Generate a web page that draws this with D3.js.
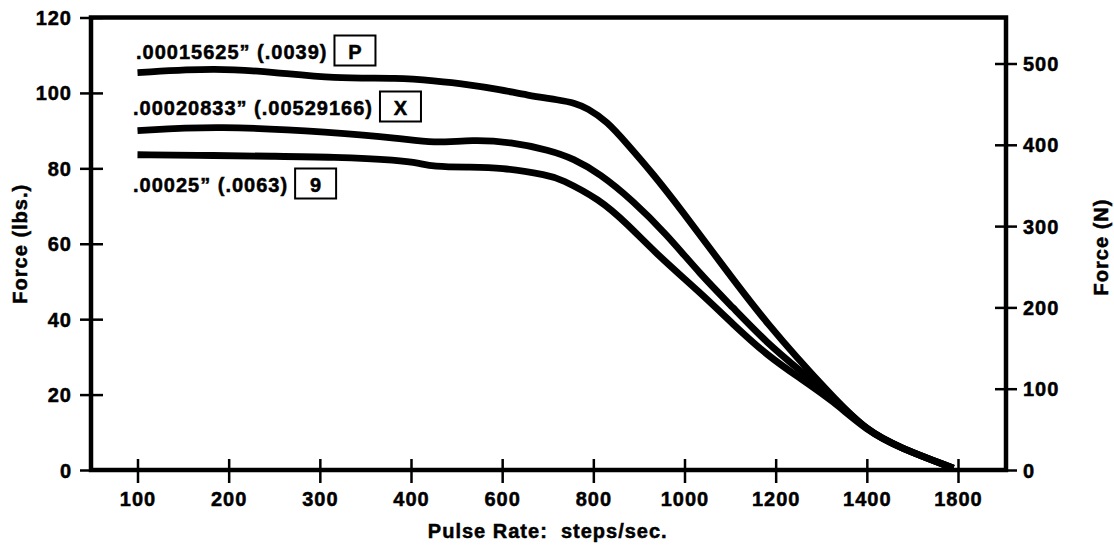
<!DOCTYPE html>
<html>
<head>
<meta charset="utf-8">
<script src="https://cdn.jsdelivr.net/npm/d3@7"></script>
<style>
  html, body { margin: 0; padding: 0; background: #fff; }
  svg { display: block; }
  text { font-family: "Liberation Sans", Arial, Helvetica, sans-serif; font-weight: bold; fill: #000; }
</style>
</head>
<body>
<svg id="chart" width="1114" height="547"></svg>
<script>
// ---- data ----
const pulseTicks = [100, 200, 300, 400, 600, 800, 1000, 1200, 1400, 1800];
const lbsTicks = [0, 20, 40, 60, 80, 100, 120];
const newtonTicks = [0, 100, 200, 300, 400, 500];

const seriesNames = ['.00015625\u201D (.0039)', '.00020833\u201D (.00529166)', '.00025\u201D (.0063)'];
const seriesCodes = ['P', 'X', '9'];

const pulseP = [100, 187, 250, 314, 388, 450, 522, 596, 654, 726, 760, 786, 830, 874, 930, 996, 1070, 1180, 1326, 1400, 1544, 1780];
const forceP = [105.4, 106.6, 105.5, 103.8, 104.0, 103.2, 102.3, 100.9, 99.4, 98.1, 97.3, 96.0, 92.5, 86.5, 78.7, 68.5, 56.5, 38.7, 19.2, 10.4, 5.9, 0.5];

const pulseX = [100, 187, 314, 388, 448, 536, 618, 704, 756, 814, 886, 960, 1034, 1106, 1180, 1254, 1326, 1400, 1544, 1780];
const forceX = [90.0, 91.3, 89.6, 88.0, 86.6, 87.6, 87.0, 84.8, 82.6, 78.6, 71.5, 62.6, 52.0, 43.1, 33.8, 26.3, 19.2, 10.4, 5.9, 0.5];

const pulse9 = [100, 187, 250, 314, 388, 420, 448, 522, 596, 704, 726, 814, 874, 946, 1034, 1106, 1180, 1254, 1326, 1400, 1544, 1780];
const force9 = [83.6, 83.4, 83.2, 83.0, 82.2, 81.3, 80.5, 80.3, 80.3, 78.1, 77.3, 71.8, 65.3, 56.4, 47.1, 38.7, 30.5, 24.3, 18.3, 10.4, 5.9, 0.5];

const xLabel = 'Pulse Rate:  steps/sec.';
const yLeftLabel = 'Force (lbs.)';
const yRightLabel = 'Force (N)';

// ---- layout ----
const frame = { left: 91, right: 1006, top: 17.5, bottom: 470 };
const xFirst = 137.5, xLast = 958;
const FS = 20, LS = '1px';

const svg = d3.select('#chart');

const x = d3.scaleLinear()
  .domain(pulseTicks)
  .range(pulseTicks.map((d, i) => xFirst + i * (xLast - xFirst) / (pulseTicks.length - 1)));
const yL = d3.scaleLinear().domain([0, 120]).range([frame.bottom, frame.top]);
const yR = d3.scaleLinear().domain([0, 500]).range([frame.bottom, 63.5]);

function styleText(sel) {
  sel.attr('font-size', FS).attr('letter-spacing', LS)
     .attr('font-family', '"Liberation Sans", Arial, Helvetica, sans-serif')
     .attr('font-weight', 'bold').attr('fill', '#000')
     .attr('stroke', '#000').attr('stroke-width', 0.5);
}

// curves
const line = d3.line().x(d => x(d[0])).y(d => yL(d[1])).curve(d3.curveBasis);
const curves = [
  d3.zip(pulseP, forceP),
  d3.zip(pulseX, forceX),
  d3.zip(pulse9, force9)
];
svg.append('g').selectAll('path').data(curves).join('path')
  .attr('d', line)
  .attr('fill', 'none')
  .attr('stroke', '#000')
  .attr('stroke-width', 6.8)
  .attr('stroke-linejoin', 'round');

// frame
svg.append('rect')
  .attr('x', frame.left).attr('y', frame.top)
  .attr('width', frame.right - frame.left).attr('height', frame.bottom - frame.top)
  .attr('fill', 'none').attr('stroke', '#000').attr('stroke-width', 4.5);

// left axis
const gL = svg.append('g').attr('transform', `translate(${frame.left},0)`)
  .call(d3.axisLeft(yL).tickValues(lbsTicks).tickSize(12).tickPadding(7).tickFormat(d3.format('d')));
gL.select('.domain').remove();
gL.selectAll('.tick line').attr('x1', 12).attr('x2', -11).attr('stroke', '#000').attr('stroke-width', 2.5);
gL.selectAll('.tick text').call(styleText).attr('dy', '0.35em');

// right axis
const gR = svg.append('g').attr('transform', `translate(${frame.right},0)`)
  .call(d3.axisRight(yR).tickValues(newtonTicks).tickSize(11).tickPadding(6).tickFormat(d3.format('d')));
gR.select('.domain').remove();
gR.selectAll('.tick line').attr('x1', -11).attr('x2', 11).attr('stroke', '#000').attr('stroke-width', 2.5);
gR.selectAll('.tick text').call(styleText).attr('dy', '0.35em');

// bottom axis
const gB = svg.append('g').attr('transform', `translate(0,${frame.bottom})`)
  .call(d3.axisBottom(x).tickValues(pulseTicks).tickSize(13).tickPadding(8).tickFormat(d3.format('d')));
gB.select('.domain').remove();
gB.selectAll('.tick line').attr('y1', -11).attr('y2', 13).attr('stroke', '#000').attr('stroke-width', 2.5);
gB.selectAll('.tick text').call(styleText).attr('y', 36).attr('dy', 0);

// axis titles
svg.append('text').text(xLabel).call(styleText)
  .attr('x', (xFirst + xLast) / 2).attr('y', 538).attr('text-anchor', 'middle').attr('xml:space', 'preserve')
  .style('white-space', 'pre');
svg.append('text').text(yLeftLabel).call(styleText)
  .attr('text-anchor', 'middle')
  .attr('transform', `translate(27,${(frame.top + frame.bottom) / 2}) rotate(-90)`);
svg.append('text').text(yRightLabel).call(styleText)
  .attr('text-anchor', 'middle')
  .attr('transform', `translate(1108,247) rotate(-90)`);

// curve labels with boxed codes
const labelPos = [
  { x: 136, y: 59 },
  { x: 133, y: 115 },
  { x: 133, y: 192 }
];
seriesNames.forEach((name, i) => {
  const t = svg.append('text').text(name).call(styleText)
    .attr('x', labelPos[i].x).attr('y', labelPos[i].y);
  const w = t.node().getComputedTextLength();
  const bx = labelPos[i].x + w + 7;
  svg.append('rect')
    .attr('x', bx).attr('y', labelPos[i].y - 23.5)
    .attr('width', 41).attr('height', 30)
    .attr('fill', 'none').attr('stroke', '#000').attr('stroke-width', 2);
  svg.append('text').text(seriesCodes[i]).call(styleText)
    .attr('x', bx + 20.5).attr('y', labelPos[i].y).attr('text-anchor', 'middle')
    .attr('letter-spacing', 0);
});
</script>
</body>
</html>
